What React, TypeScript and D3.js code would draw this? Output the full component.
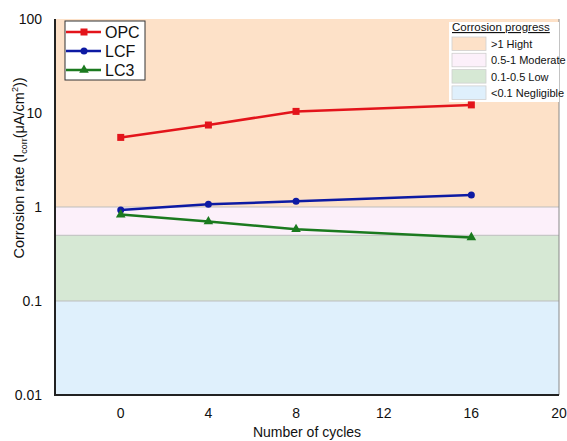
import React from "react";
import * as d3 from "d3";

const cycles = [0, 4, 8, 16];
const seriesNames = ["OPC", "LCF", "LC3"];
const opcValues = [5.5, 7.45, 10.4, 12.2];
const lcfValues = [0.93, 1.07, 1.15, 1.34];
const lc3Values = [0.83, 0.7, 0.58, 0.475];
const seriesColors = ["#e3141b", "#0d1aa3", "#1b7a1f"];
const seriesMarkers = ["square", "circle", "triangle"];

const xTicks = [0, 4, 8, 12, 16, 20];
const yTicks = [0.01, 0.1, 1, 10, 100];
const yTickLabels = ["0.01", "0.1", "1", "10", "100"];

const bandLabels = [">1 Hight", "0.5-1 Moderate", "0.1-0.5 Low", "<0.1 Negligible"];
const bandLows = [1, 0.5, 0.1, 0.01];
const bandHighs = [100, 1, 0.5, 0.1];
const bandColors = ["#fde1c8", "#fcf0fa", "#d6e8d4", "#dff0fc"];

const W = 567;
const H = 441;
const M = { left: 55, right: 559, top: 19, bottom: 395 };
const FONT = "'Liberation Sans', Arial, sans-serif";

function Marker({ kind, x, y, color }: { kind: string; x: number; y: number; color: string }) {
  if (kind === "square") return <rect x={x - 3.5} y={y - 3.5} width={7} height={7} fill={color} />;
  if (kind === "circle") return <circle cx={x} cy={y} r={3.5} fill={color} />;
  const s = d3.symbol().type(d3.symbolTriangle).size(40)();
  return <path d={s || ""} transform={`translate(${x},${y})`} fill={color} />;
}

export default function App() {
  const x = d3.scaleLinear().domain([-3, 20]).range([M.left, M.right]);
  const y = d3.scaleLog().domain([0.01, 100]).range([M.bottom, M.top]);
  const allValues = [opcValues, lcfValues, lc3Values];
  const line = d3
    .line<[number, number]>()
    .x((d) => x(d[0]))
    .y((d) => y(d[1]));

  return (
    <svg width={W} height={H} style={{ position: "absolute", left: 0, top: 0, fontFamily: FONT }}>
      <rect width={W} height={H} fill="#fff" />
      {bandLabels.map((b, i) => (
        <rect
          key={b}
          x={M.left}
          width={M.right - M.left}
          y={y(bandHighs[i])}
          height={y(bandLows[i]) - y(bandHighs[i])}
          fill={bandColors[i]}
        />
      ))}
      {[1, 0.5, 0.1].map((v) => (
        <line key={v} x1={M.left} x2={M.right} y1={y(v)} y2={y(v)} stroke="#bdbdbd" strokeWidth={1} />
      ))}
      {/* frame */}
      <line x1={M.right} x2={M.right} y1={M.top} y2={M.bottom} stroke="#888" strokeWidth={1} />
      <line x1={M.left} x2={M.left} y1={M.top} y2={M.bottom + 1} stroke="#222" strokeWidth={2} />
      <line x1={M.left - 1} x2={M.right} y1={M.bottom} y2={M.bottom} stroke="#222" strokeWidth={2} />

      {/* y tick labels */}
      {yTicks.map((t, i) => (
        <text key={t} x={42} y={y(t) + 5} textAnchor="end" fontSize={14} fill="#111">
          {yTickLabels[i]}
        </text>
      ))}
      {/* x tick labels */}
      {xTicks.map((t) => (
        <text key={t} x={x(t)} y={418} textAnchor="middle" fontSize={14} fill="#111">
          {t}
        </text>
      ))}
      <text x={307} y={437} textAnchor="middle" fontSize={14} fill="#111">
        Number of cycles
      </text>
      <text transform="translate(24,168) rotate(-90)" textAnchor="middle" fontSize={14.5} fill="#111">
        Corrosion rate (I
        <tspan fontSize={9} dy={3}>corr</tspan>
        <tspan dy={-3}>(μA/cm</tspan>
        <tspan fontSize={9} dy={-6}>2</tspan>
        <tspan dy={6}>))</tspan>
      </text>

      {/* band legend */}
      <rect x={449} y={22} width={110} height={80} fill="#fff" />
      <text x={452} y={31} fontSize={11.5} fill="#111" textDecoration="underline">
        Corrosion progress
      </text>
      {bandLabels.map((b, i) => {
        const ry = 37 + i * 16.3;
        return (
          <g key={b}>
            <rect x={452} y={ry} width={34} height={13.5} fill={bandColors[i]} stroke="#cfcfcf" strokeWidth={0.8} />
            <text x={491} y={ry + 11} fontSize={11} fill="#111">
              {b}
            </text>
          </g>
        );
      })}

      {/* series */}
      {allValues.map((vals, si) => {
        const pts = cycles.map((c, i) => [c, vals[i]] as [number, number]);
        return (
          <g key={seriesNames[si]}>
            <path d={line(pts) || ""} fill="none" stroke={seriesColors[si]} strokeWidth={2.5} />
            {pts.map((p, i) => (
              <Marker key={i} kind={seriesMarkers[si]} x={x(p[0])} y={y(p[1])} color={seriesColors[si]} />
            ))}
          </g>
        );
      })}

      {/* series legend */}
      <rect x={65} y={21} width={80} height={59} fill="#fff" stroke="#333" strokeWidth={1} />
      {seriesNames.map((n, i) => {
        const ly = 32 + i * 19;
        return (
          <g key={n}>
            <line x1={66} x2={101} y1={ly} y2={ly} stroke={seriesColors[i]} strokeWidth={2.5} />
            <Marker kind={seriesMarkers[i]} x={84} y={ly} color={seriesColors[i]} />
            <text x={105} y={ly + 6} fontSize={16} fill="#111">
              {n}
            </text>
          </g>
        );
      })}
    </svg>
  );
}
